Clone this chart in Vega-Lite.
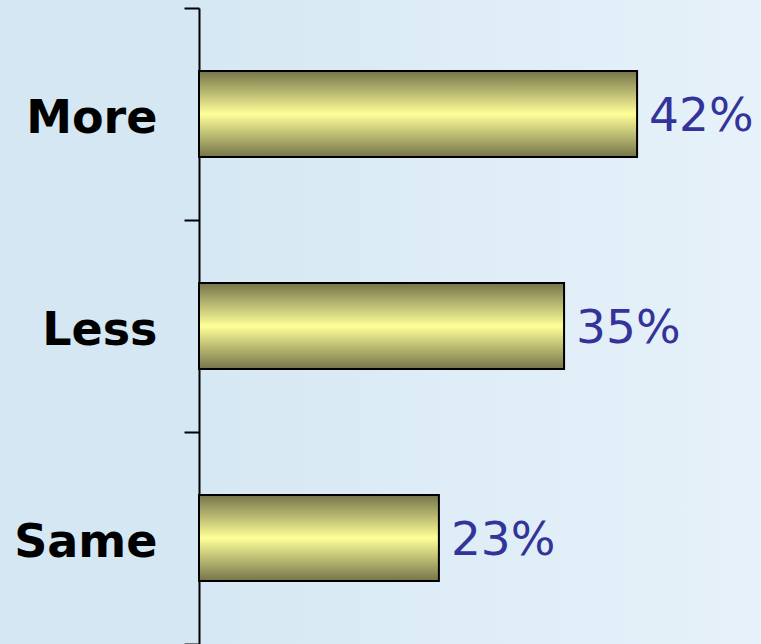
{
  "$schema": "https://vega.github.io/schema/vega-lite/v6.json",
  "autosize": {"type": "none"},
  "padding": {"left": 199, "top": 0, "right": 0, "bottom": 0},
  "width": 562,
  "height": 644,
  "background": "#d4e7f3",
  "config": {
    "view": {
      "stroke": null,
      "fill": {
        "gradient": "linear",
        "x1": 0, "y1": 0, "x2": 1, "y2": 0,
        "stops": [
          {"offset": 0, "color": "#d6e8f3"},
          {"offset": 1, "color": "#e7f2fa"}
        ]
      }
    }
  },
  "data": {
    "values": [
      {"category": "More", "value": 0.42},
      {"category": "Less", "value": 0.35},
      {"category": "Same", "value": 0.23}
    ]
  },
  "encoding": {
    "y": {
      "field": "category",
      "type": "nominal",
      "sort": ["More", "Less", "Same"],
      "scale": {"paddingInner": 0, "paddingOuter": 0, "range": [8, 644]},
      "axis": {
        "title": null,
        "tickBand": "extent",
        "domainColor": "#000000",
        "domainWidth": 2,
        "tickColor": "#000000",
        "tickWidth": 2,
        "tickSize": 15,
        "labelFont": "DejaVu Sans",
        "labelFontWeight": "bold",
        "labelFontSize": 46,
        "labelColor": "#000000",
        "labelPadding": 27,
        "labelOffset": 4
      }
    },
    "x": {
      "field": "value",
      "type": "quantitative",
      "scale": {"domain": [0, 0.5388], "nice": false, "zero": true},
      "axis": null
    }
  },
  "layer": [
    {
      "mark": {
        "type": "bar",
        "height": {"band": 0.406},
        "stroke": "#000000",
        "strokeWidth": 2,
        "color": {
          "gradient": "linear",
          "x1": 0, "y1": 0, "x2": 0, "y2": 1,
          "stops": [
            {"offset": 0, "color": "#74744a"},
            {"offset": 0.5, "color": "#ffff99"},
            {"offset": 1, "color": "#74744a"}
          ]
        }
      }
    },
    {
      "mark": {
        "type": "text",
        "align": "left",
        "baseline": "middle",
        "dx": 12,
        "dy": 3,
        "font": "DejaVu Sans",
        "fontSize": 47,
        "color": "#333399"
      },
      "encoding": {
        "text": {"field": "value", "type": "quantitative", "format": ".0%"}
      }
    }
  ]
}
